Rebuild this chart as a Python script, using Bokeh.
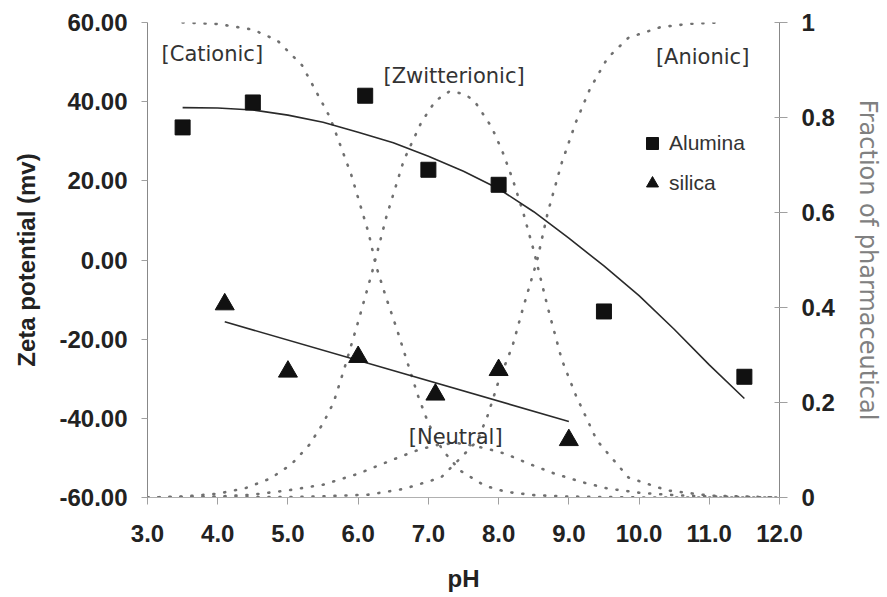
from bokeh.plotting import figure
from bokeh.models import (Range1d, LinearAxis, FixedTicker, PrintfTickFormatter,
                          CustomJSTickFormatter, Legend, LegendItem, Label)
from bokeh.embed import file_html
from bokeh.resources import INLINE

# ---- data ----
ph_ticks = [3.0, 4.0, 5.0, 6.0, 7.0, 8.0, 9.0, 10.0, 11.0, 12.0]
zeta_ticks = [-60, -40, -20, 0, 20, 40, 60]
frac_ticks = [0, 0.2, 0.4, 0.6, 0.8, 1.0]

alumina_ph = [3.5, 4.5, 6.1, 7.0, 8.0, 9.5, 11.5]
alumina_zeta = [33.5, 39.8, 41.5, 22.8, 19.0, -13.0, -29.5]

silica_ph = [4.1, 5.0, 6.0, 7.1, 8.0, 9.0]
silica_zeta = [-11.2, -28.2, -24.5, -34.0, -27.8, -45.5]

alumina_fit_ph = [3.5, 4.0, 4.5, 5.0, 5.5, 6.0, 6.5, 7.0, 7.5, 8.0, 8.5, 9.0,
                  9.5, 10.0, 10.5, 11.0, 11.5]
alumina_fit_zeta = [38.5, 38.4, 37.9, 36.6, 34.8, 32.3, 29.6, 26.2, 22.4, 18.0,
                    12.2, 5.5, -1.5, -9.0, -17.5, -26.5, -35.0]

silica_fit_ph = [4.1, 9.0]
silica_fit_zeta = [-15.6, -40.8]

cat_ph = [3.5, 4.0, 4.5, 4.85, 5.2, 5.6, 5.9, 6.15, 6.25, 6.4, 6.55, 6.7, 6.85,
          7.0, 7.2, 7.45, 7.8, 8.1, 8.5, 9.0, 10.0, 11.0, 12.0]
cat_frac = [1.0, 0.997, 0.985, 0.962, 0.91, 0.8, 0.68, 0.556, 0.49, 0.42, 0.355,
            0.285, 0.215, 0.156, 0.1, 0.057, 0.025, 0.012, 0.005, 0.002, 0.0, 0.0, 0.0]

zwi_ph = [3.0, 3.5, 4.0, 4.4, 4.75, 5.05, 5.3, 5.5, 5.65, 5.8, 6.0, 6.2, 6.4, 6.65,
          6.9, 7.1, 7.3, 7.5, 7.65, 7.9, 8.05, 8.2, 8.35, 8.5, 8.6, 8.7, 8.9, 9.1,
          9.4, 9.85, 10.4, 11.0, 12.0]
zwi_frac = [0.0, 0.002, 0.008, 0.02, 0.04, 0.07, 0.11, 0.156, 0.2, 0.27, 0.37,
            0.475, 0.59, 0.71, 0.79, 0.835, 0.855, 0.85, 0.836, 0.78, 0.73, 0.67,
            0.6, 0.52, 0.46, 0.4, 0.29, 0.215, 0.12, 0.042, 0.015, 0.004, 0.0]

neu_ph = [3.0, 4.0, 4.5, 5.0, 5.5, 6.0, 6.5, 6.85, 7.1, 7.4, 7.6, 7.8, 8.1, 8.4,
          8.8, 9.2, 9.55, 10.0, 10.5, 11.0, 12.0]
neu_frac = [0.0, 0.002, 0.006, 0.015, 0.027, 0.05, 0.08, 0.1, 0.11, 0.115, 0.11,
            0.104, 0.092, 0.073, 0.05, 0.032, 0.019, 0.01, 0.005, 0.002, 0.0]

ani_ph = [3.0, 5.0, 5.6, 6.15, 6.65, 7.18, 7.47, 7.7, 7.85, 8.0, 8.2, 8.35, 8.55,
          8.7, 8.9, 9.1, 9.3, 9.55, 9.85, 10.3, 10.7, 11.1]
ani_frac = [0.0, 0.001, 0.003, 0.006, 0.018, 0.042, 0.085, 0.12, 0.175, 0.245,
            0.32, 0.4, 0.5, 0.6, 0.705, 0.79, 0.86, 0.925, 0.968, 0.99, 0.997, 1.0]

species_labels = ["[Cationic]", "[Zwitterionic]", "[Anionic]", "[Neutral]"]
species_label_ph = [3.2, 6.36, 10.24, 6.72]
species_label_zeta = [52.0, 46.5, 51.3, -44.6]

# ---- figure ----
p = figure(width=887, height=597, x_range=Range1d(3, 12), y_range=Range1d(-60, 60),
           output_backend="svg", toolbar_location=None,
           min_border_left=147, min_border_right=108, min_border_top=22,
           min_border_bottom=100)
p.outline_line_color = None
p.grid.visible = False
p.background_fill_color = "white"
p.border_fill_color = "white"
p.extra_y_ranges = {"frac": Range1d(0, 1)}

TICK_FONT = "Liberation Sans"

# bottom axis
xa = p.xaxis[0]
xa.ticker = FixedTicker(ticks=ph_ticks)
xa.formatter = PrintfTickFormatter(format="%.1f")
xa.axis_label = "pH"
xa.axis_label_text_font = TICK_FONT
xa.axis_label_text_font_style = "bold"
xa.axis_label_text_font_size = "24px"
xa.axis_label_text_color = "#222222"
xa.axis_label_standoff = 20
xa.major_label_text_font = TICK_FONT
xa.major_label_text_font_style = "bold"
xa.major_label_text_font_size = "24px"
xa.major_label_text_color = "#222222"
xa.major_label_standoff = 20
xa.axis_line_color = "#b0b0b0"
xa.major_tick_line_color = "#a0a0a0"
xa.major_tick_in = 0
xa.major_tick_out = 7
xa.minor_tick_line_color = None

# left axis
ya = p.yaxis[0]
ya.ticker = FixedTicker(ticks=zeta_ticks)
ya.formatter = PrintfTickFormatter(format="%.2f")
ya.axis_label = "Zeta potential (mv)"
ya.axis_label_text_font = TICK_FONT
ya.axis_label_text_font_style = "bold"
ya.axis_label_text_font_size = "24px"
ya.axis_label_text_color = "#222222"
ya.axis_label_standoff = 16
ya.major_label_text_font = TICK_FONT
ya.major_label_text_font_style = "bold"
ya.major_label_text_font_size = "24px"
ya.major_label_text_color = "#222222"
ya.major_label_standoff = 14
ya.axis_line_color = "#888888"
ya.major_tick_line_color = "#a0a0a0"
ya.major_tick_in = 0
ya.major_tick_out = 6
ya.minor_tick_line_color = None

# right axis
ra = LinearAxis(y_range_name="frac", ticker=FixedTicker(ticks=frac_ticks),
                formatter=CustomJSTickFormatter(
                    code="return (tick == 0 || tick == 1) ? tick.toFixed(0) : tick.toFixed(1);"))
ra.axis_label = "Fraction of pharmaceutical"
ra.axis_label_text_font = "DejaVu Sans"
ra.axis_label_text_font_style = "normal"
ra.axis_label_text_font_size = "24px"
ra.axis_label_text_color = "#808080"
ra.axis_label_standoff = 16
ra.major_label_text_font = TICK_FONT
ra.major_label_text_font_style = "bold"
ra.major_label_text_font_size = "24px"
ra.major_label_text_color = "#222222"
ra.major_label_standoff = 14
ra.axis_line_color = "#888888"
ra.major_tick_line_color = "#a0a0a0"
ra.major_tick_in = 5
ra.major_tick_out = 8
ra.minor_tick_line_color = None
p.add_layout(ra, "right")

# species fraction curves (dotted)
DOT = dict(line_color="#707070", line_width=2.6, line_dash="1 10", line_cap="round",
           y_range_name="frac")
p.line(cat_ph, cat_frac, **DOT)
p.line(zwi_ph, zwi_frac, **DOT)
p.line(neu_ph, neu_frac, **DOT)
p.line(ani_ph, ani_frac, **DOT)

# trend lines
p.line(alumina_fit_ph, alumina_fit_zeta, line_color="#2a2a2a", line_width=1.6)
p.line(silica_fit_ph, silica_fit_zeta, line_color="#2a2a2a", line_width=1.6)

# data points
sq = p.scatter(alumina_ph, alumina_zeta, marker="square", size=15,
               fill_color="#111111", line_color="#111111")
tri = p.scatter(silica_ph, silica_zeta, marker="triangle", size=19,
                fill_color="#111111", line_color="#111111")

# species labels
for t, lx, ly in zip(species_labels, species_label_ph, species_label_zeta):
    p.add_layout(Label(x=lx, y=ly, text=t, text_font="DejaVu Sans",
                       text_font_size="21px", text_color="#333333",
                       text_baseline="alphabetic", text_align="left"))

legend = Legend(items=[LegendItem(label="Alumina", renderers=[sq]),
                       LegendItem(label="silica", renderers=[tri])],
                location=(490, 299), glyph_width=30, glyph_height=30, spacing=10,
                padding=0, margin=0, label_standoff=2,
                label_text_font=TICK_FONT, label_text_font_size="21px",
                label_text_color="#333333",
                border_line_alpha=0, background_fill_alpha=0)
p.add_layout(legend)

open("out.html", "w").write(file_html(p, INLINE))
